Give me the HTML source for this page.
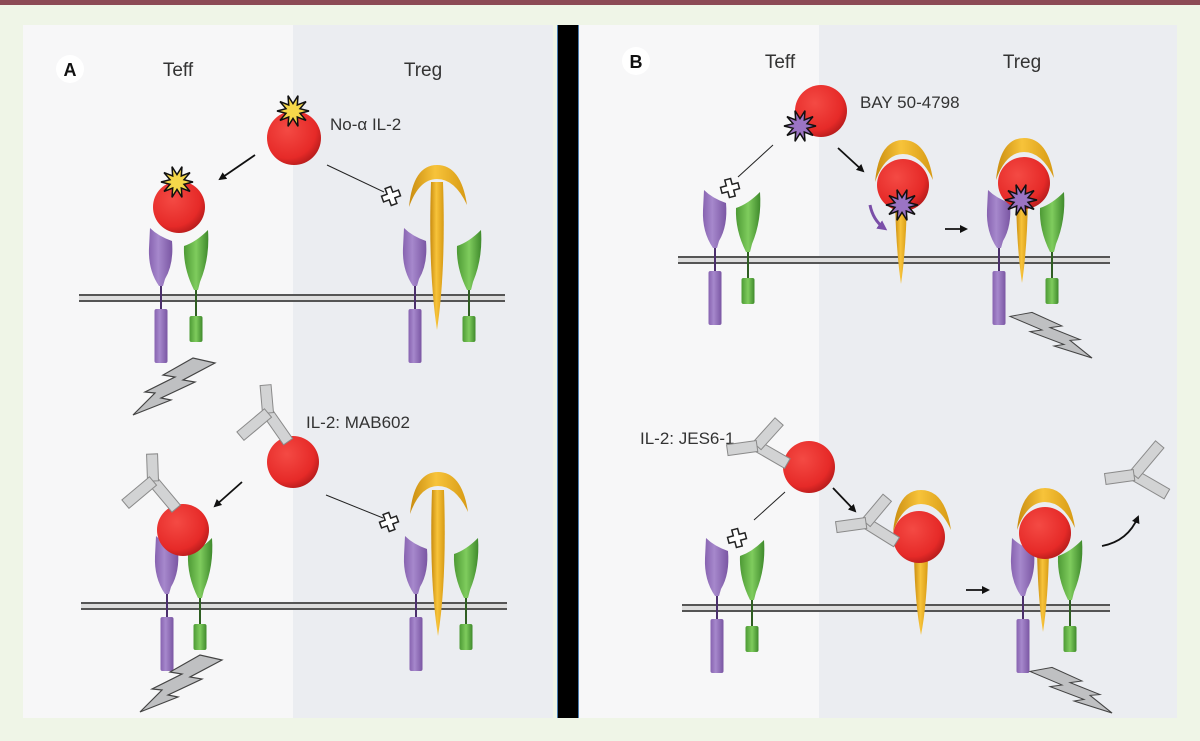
<!DOCTYPE html>
<html><head><meta charset="utf-8"><style>
html,body{margin:0;padding:0;background:#eff5e7;}
svg{display:block}
text{font-family:"Liberation Sans",sans-serif;fill:#333}
</style></head><body>
<svg width="1200" height="741" viewBox="0 0 1200 741" xmlns="http://www.w3.org/2000/svg">
<defs>
<radialGradient id="rg" cx="0.38" cy="0.35" r="0.7"><stop offset="0" stop-color="#f44a44"/><stop offset="0.75" stop-color="#e62a28"/><stop offset="1" stop-color="#b51b1b"/></radialGradient>
<linearGradient id="yg" x1="0" x2="1"><stop offset="0" stop-color="#c98c0f"/><stop offset="0.45" stop-color="#f7c33a"/><stop offset="1" stop-color="#d79a14"/></linearGradient>
<linearGradient id="pg" x1="0" x2="1"><stop offset="0" stop-color="#8763b0"/><stop offset="0.4" stop-color="#a688cc"/><stop offset="1" stop-color="#7a56a3"/></linearGradient>
<linearGradient id="gg" x1="0" x2="1"><stop offset="0" stop-color="#4d9a35"/><stop offset="0.5" stop-color="#7fcc5d"/><stop offset="1" stop-color="#3f8a2c"/></linearGradient>
<g id="pr">
  <line x1="0" y1="-12" x2="0" y2="12" stroke="#4b2f6c" stroke-width="2"/>
  <path d="M-11,-70 Q-3,-62 11,-57 Q13,-34 4,-19 L2,-12 L-2,-12 Q-13,-28 -12,-50 Z" fill="url(#pg)"/>
  <rect x="-6.5" y="11" width="13" height="54" rx="2" fill="url(#pg)"/>
</g>
<g id="gr">
  <line x1="0" y1="-10" x2="0" y2="20" stroke="#2f5e22" stroke-width="2"/>
  <path d="M-12,-52 Q0,-56 12,-68 Q14,-40 4,-16 L2,-8 L-2,-8 Q-13,-30 -12,-52 Z" fill="url(#gg)"/>
  <rect x="-6.5" y="18" width="13" height="26" rx="2" fill="url(#gg)"/>
</g>
<path id="cres" d="M-28,42 Q-24,0 0,0 Q24,0 30,40 Q18,14 0,14 Q-18,14 -28,42 Z" fill="url(#yg)"/>
<polygon id="star" points="16,0 7,2.3 13,9.4 4.3,6 5,15.3 0,7.4 -5,15.3 -4.3,6 -13,9.4 -7,2.3 -16,0 -7,-2.3 -13,-9.4 -4.3,-6 -5,-15.3 0,-7.4 5,-15.3 4.3,-6 13,-9.4 7,-2.3" stroke="#111" stroke-width="1.5"/>
<path id="cross" d="M-3,-9 H3 V-3 H9 V3 H3 V9 H-3 V3 H-9 V-3 H-3 Z" fill="#fff" stroke="#222" stroke-width="1.5"/>
<polygon id="bolt" points="0,0 38,-15 28,-17 62,-33 50,-35 82,-52 60,-57 30,-40 42,-38 12,-23 22,-22" fill="#bfc0c2" stroke="#444" stroke-width="1.2"/>
<marker id="ah" markerWidth="8" markerHeight="8" refX="6" refY="4" orient="auto" markerUnits="userSpaceOnUse"><path d="M0,0 L8,4 L0,8 Z" fill="#111"/></marker>
<marker id="ahp" markerWidth="10" markerHeight="10" refX="6" refY="5" orient="auto" markerUnits="userSpaceOnUse"><path d="M0,0 L10,5 L0,10 Z" fill="#7a4ea8"/></marker>
</defs>

<rect x="0" y="0" width="1200" height="5" fill="#8c4a55"/>
<rect x="23" y="25" width="270" height="693" fill="#f7f7f8"/>
<rect x="293" y="25" width="260" height="693" fill="#ebedf1"/>
<rect x="558" y="25" width="20" height="693" fill="#000"/>
<rect x="557" y="25" width="1" height="693" fill="#4a7cb0"/>
<rect x="578" y="25" width="1" height="693" fill="#4a7cb0"/>
<rect x="579" y="25" width="240" height="693" fill="#f7f7f8"/>
<rect x="819" y="25" width="358" height="693" fill="#ebedf1"/>

<circle cx="70" cy="69" r="14" fill="#fff"/><text x="70" y="76" text-anchor="middle" font-weight="bold" font-size="18" style="fill:#111">A</text>
<text x="178" y="76" text-anchor="middle" font-size="19">Teff</text>
<text x="423" y="76" text-anchor="middle" font-size="19">Treg</text>
<circle cx="636" cy="61" r="14" fill="#fff"/><text x="636" y="68" text-anchor="middle" font-weight="bold" font-size="18" style="fill:#111">B</text>
<text x="780" y="68" text-anchor="middle" font-size="19">Teff</text>
<text x="1022" y="68" text-anchor="middle" font-size="19">Treg</text>
<text x="330" y="130" font-size="17">No-α IL-2</text>
<text x="306" y="428" font-size="17">IL-2: MAB602</text>
<text x="860" y="108" font-size="17">BAY 50-4798</text>
<text x="640" y="444" font-size="17">IL-2: JES6-1</text>

<g stroke="#555" stroke-width="2" fill="none">
<rect x="79" y="295" width="426" height="6" fill="#ddd" stroke="none"/><line x1="79" y1="295" x2="505" y2="295"/><line x1="79" y1="301" x2="505" y2="301"/>
<rect x="81" y="603" width="426" height="6" fill="#ddd" stroke="none"/><line x1="81" y1="603" x2="507" y2="603"/><line x1="81" y1="609" x2="507" y2="609"/>
<rect x="678" y="257" width="432" height="6" fill="#ddd" stroke="none"/><line x1="678" y1="257" x2="1110" y2="257"/><line x1="678" y1="263" x2="1110" y2="263"/>
<rect x="682" y="605" width="428" height="6" fill="#ddd" stroke="none"/><line x1="682" y1="605" x2="1110" y2="605"/><line x1="682" y1="611" x2="1110" y2="611"/>
</g>

<!-- A top -->
<use href="#pr" x="161" y="298"/><use href="#gr" x="196" y="298"/>
<circle cx="179" cy="207" r="26" fill="url(#rg)"/>
<use href="#star" x="177" y="182" fill="#f6d84a"/>
<circle cx="294" cy="138" r="27" fill="url(#rg)"/>
<use href="#star" x="293" y="111" fill="#f6d84a"/>
<line x1="255" y1="155" x2="220" y2="179" stroke="#111" stroke-width="1.8" marker-end="url(#ah)"/>
<line x1="327" y1="165" x2="384" y2="192" stroke="#222" stroke-width="1"/>
<use href="#cross" transform="translate(391,196) rotate(-20)"/>
<use href="#pr" x="415" y="298"/><use href="#gr" x="469" y="298"/>
<path d="M431,182 Q428,270 437,330 Q446,270 443,182 Z" fill="url(#yg)"/>
<use href="#cres" x="437" y="165"/>
<use href="#bolt" x="133" y="415"/>

<!-- A bottom -->
<use href="#pr" x="167" y="606"/><use href="#gr" x="200" y="606"/>
<circle cx="183" cy="530" r="26" fill="url(#rg)"/>
<g transform="translate(153,481)" fill="#d2d3d4" stroke="#8a8a8a" stroke-width="1">
<rect x="0" y="-5.5" width="36" height="11" transform="rotate(50)"/>
<rect x="0" y="-5.5" width="27" height="11" transform="rotate(-92)"/>
<rect x="0" y="-5.5" width="36" height="11" transform="rotate(140)"/>
</g>
<circle cx="293" cy="462" r="26" fill="url(#rg)"/>
<g transform="translate(268,413)" fill="#d2d3d4" stroke="#8a8a8a" stroke-width="1">
<rect x="0" y="-5.5" width="35" height="11" transform="rotate(55)"/>
<rect x="0" y="-5.5" width="28" height="11" transform="rotate(-95)"/>
<rect x="0" y="-5.5" width="36" height="11" transform="rotate(140)"/>
</g>
<line x1="242" y1="482" x2="215" y2="506" stroke="#111" stroke-width="1.8" marker-end="url(#ah)"/>
<line x1="326" y1="495" x2="383" y2="518" stroke="#222" stroke-width="1"/>
<use href="#cross" transform="translate(389,522) rotate(-20)"/>
<use href="#pr" x="416" y="606"/><use href="#gr" x="466" y="606"/>
<path d="M432,490 Q429,580 438,636 Q447,580 444,490 Z" fill="url(#yg)"/>
<use href="#cres" x="438" y="472"/>
<use href="#bolt" x="140" y="712"/>

<!-- B top -->
<use href="#pr" x="715" y="260"/><use href="#gr" x="748" y="260"/>
<circle cx="821" cy="111" r="26" fill="url(#rg)"/>
<use href="#star" x="800" y="126" fill="#9b74c4"/>
<line x1="773" y1="145" x2="738" y2="177" stroke="#222" stroke-width="1"/>
<use href="#cross" transform="translate(730,188) rotate(-15)"/>
<line x1="838" y1="148" x2="863" y2="171" stroke="#111" stroke-width="1.8" marker-end="url(#ah)"/>
<path d="M895,200 Q896,250 901,284 Q906,250 907,200 Z" fill="url(#yg)"/>
<use href="#cres" x="903" y="140"/>
<circle cx="903" cy="185" r="26" fill="url(#rg)"/>
<use href="#star" x="902" y="205" fill="#9b74c4"/>
<path d="M870,205 Q873,220 884,228" stroke="#7a4ea8" stroke-width="3" fill="none" marker-end="url(#ahp)"/>
<line x1="945" y1="229" x2="966" y2="229" stroke="#111" stroke-width="1.8" marker-end="url(#ah)"/>
<use href="#pr" x="999" y="260"/><use href="#gr" x="1052" y="260"/>
<path d="M1016,200 Q1017,250 1022,283 Q1027,250 1028,200 Z" fill="url(#yg)"/>
<use href="#cres" x="1024" y="138"/>
<circle cx="1024" cy="183" r="26" fill="url(#rg)"/>
<use href="#star" x="1021" y="200" fill="#9b74c4"/>
<use href="#bolt" transform="translate(1092,358) scale(-1,0.8)"/>

<!-- B bottom -->
<use href="#pr" x="717" y="608"/><use href="#gr" x="752" y="608"/>
<circle cx="809" cy="467" r="26" fill="url(#rg)"/>
<g transform="translate(757,446)" fill="#d2d3d4" stroke="#8a8a8a" stroke-width="1">
<rect x="0" y="-5.5" width="35" height="11" transform="rotate(30)"/>
<rect x="0" y="-5.5" width="33" height="11" transform="rotate(-48)"/>
<rect x="0" y="-5.5" width="30" height="11" transform="rotate(172)"/>
</g>
<line x1="785" y1="492" x2="754" y2="520" stroke="#222" stroke-width="1"/>
<use href="#cross" transform="translate(737,538) rotate(-15)"/>
<line x1="833" y1="488" x2="855" y2="511" stroke="#111" stroke-width="1.8" marker-end="url(#ah)"/>
<path d="M914,555 Q915,605 921,635 Q927,605 928,555 Z" fill="url(#yg)"/>
<use href="#cres" x="921" y="490"/>
<circle cx="919" cy="537" r="26" fill="url(#rg)"/>
<g transform="translate(866,523)" fill="#d2d3d4" stroke="#8a8a8a" stroke-width="1">
<rect x="0" y="-5.5" width="36" height="11" transform="rotate(32)"/>
<rect x="0" y="-5.5" width="33" height="11" transform="rotate(-50)"/>
<rect x="0" y="-5.5" width="30" height="11" transform="rotate(172)"/>
</g>
<line x1="966" y1="590" x2="988" y2="590" stroke="#111" stroke-width="1.8" marker-end="url(#ah)"/>
<use href="#pr" x="1023" y="608"/><use href="#gr" x="1070" y="608"/>
<path d="M1037,550 Q1038,600 1043,632 Q1048,600 1049,550 Z" fill="url(#yg)"/>
<use href="#cres" x="1045" y="488"/>
<circle cx="1045" cy="533" r="26" fill="url(#rg)"/>
<use href="#bolt" transform="translate(1112,713) scale(-1,0.8)"/>
<g transform="translate(1134,475)" fill="#d2d3d4" stroke="#8a8a8a" stroke-width="1">
<rect x="0" y="-5.5" width="38" height="11" transform="rotate(30)"/>
<rect x="0" y="-5.5" width="40" height="11" transform="rotate(-50)"/>
<rect x="0" y="-5.5" width="29" height="11" transform="rotate(172)"/>
</g>
<path d="M1102,546 Q1128,541 1138,517" stroke="#111" stroke-width="1.8" fill="none" marker-end="url(#ah)"/>
</svg>
</body></html>
